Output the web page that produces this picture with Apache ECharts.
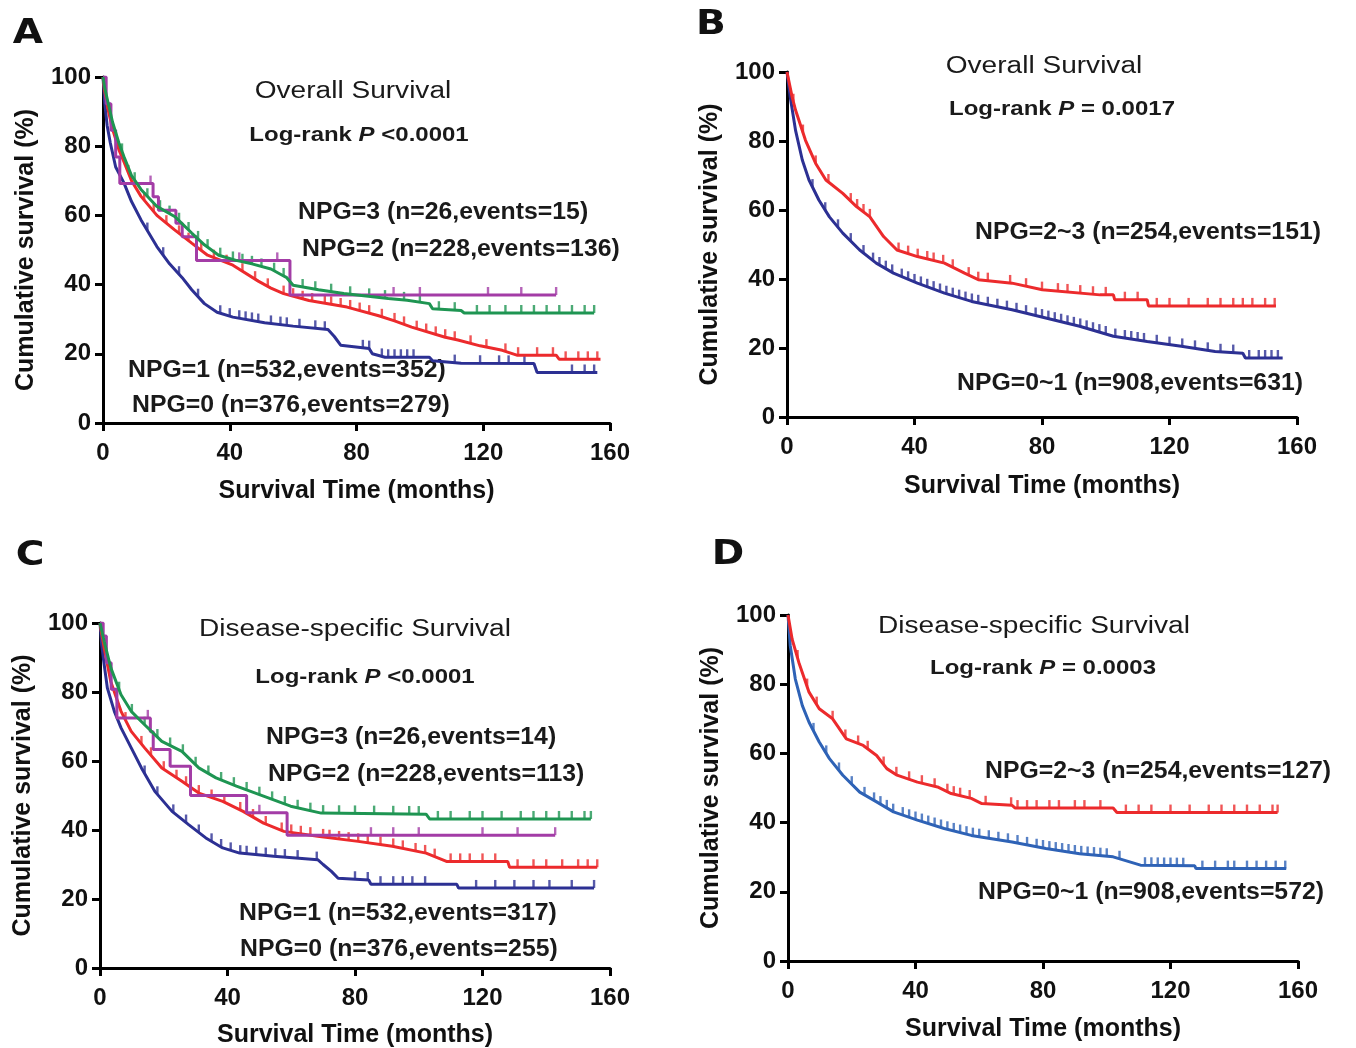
<!DOCTYPE html>
<html>
<head>
<meta charset="utf-8">
<script src="https://cdn.jsdelivr.net/npm/echarts@6/dist/echarts.min.js"></script>
<style>
  html, body { margin: 0; padding: 0; background: #fff; }
  #chart { width: 1356px; height: 1048px; }
</style>
</head>
<body>
<div id="chart"></div>
<script>
// ---- A: overall survival, 4 groups  [month, survival %]
var osNpg0 = [[0,100],[0.5,93],[1.3,86],[2.3,81],[4,74],[6.6,69.4],[9,64],[12,58.7],[17,51],[21,46],[25,42],[28,38.5],[32,34.5],[36,32],[41,30.6],[51,29],[60,28],[71,27],[73,25],[75,22.5],[84,21.5],[85,20],[89,19],[103,19],[104,18],[113,17.3],[136,17.2],[137,14.6],[156,14.6]];
var osNpg1 = [[0,100],[0.5,96],[1.5,91],[3,85],[5,79],[6.6,75.5],[9,70],[12,65.5],[17,60],[22.6,55.8],[28,52],[33,48.5],[41,45.6],[49,41],[53,39],[57,37.4],[65,35.4],[77,33.5],[87,31],[92,29.5],[97.4,27.7],[108,24.8],[112,24],[119,22.3],[126,21],[130.6,19.6],[143,19.6],[144,18.4],[157,18.4]];
var osNpg2 = [[0,100],[0.5,97],[1.5,93],[3,87],[5,81],[6.6,77],[9,71.5],[12,67.5],[17,62.6],[22.6,59.7],[28,54.9],[32,51.5],[36.5,48.5],[42,47],[47,46],[53,44.5],[56,43],[58,42],[60,39.8],[68,38.5],[76,37.4],[90,36],[96,35.5],[103,34.5],[104,33],[113,32.5],[114,31.8],[155,31.8]];
var osNpg3 = [[0,100],[1,92.3],[2.5,84.6],[4,76.9],[5.3,69.2],[15.8,65.4],[17.5,61.5],[23,57.7],[25,53.8],[29.5,47],[59,37],[143,37]];
var osNpg0Cens = [14,19,24,30,37,40,43,45,47,49,53,56,58,62,67,70,82,84,88,90,92,94,96,98,111,119,125,128,133,148,152,155];
var osNpg1Cens = [8,13,16,20,24,27,31,35,39,44,48,52,57,60,63,66,70,72,75,78,81,84,88,92,95,99,102,105,108,111,116,121,127,131,137,142,146,150,153,156];
var osNpg2Cens = [6,10,14,18,21,24,27,30,33,37,41,44,47,50,54,57,63,67,72,78,84,89,95,100,106,111,118,122,127,132,136,140,144,148,152,155];
var osNpg3Cens = [15,43,55,91.7,100,121.5,132,143];

// ---- B: overall survival, 2 groups
var osLow = [[0,100],[1,92.8],[2.7,83],[4.8,74.5],[6.9,68.7],[10,62.9],[13.3,58],[17.5,53.3],[22.8,48.4],[28,44.6],[33.4,41.7],[40.9,38.8],[49.4,35.9],[57.9,33.5],[70.6,31.1],[81.2,28.7],[91.8,26.3],[102.4,23.4],[113,21.9],[123.7,20.5],[134.3,19],[143,18.5],[143.8,17.1],[155.5,17.1]];
var osHigh = [[0,100],[1.6,92.8],[2.7,88.9],[5.8,80.2],[9,73.5],[12.2,68.7],[17.5,64.8],[21.8,61],[26,58],[30.3,52.3],[34.5,48.4],[40.9,46.5],[49.4,44.6],[55.7,41.7],[60,39.8],[70.6,38.8],[80.1,36.9],[98.2,35.4],[102.4,35.4],[102.8,34],[113,34],[113.4,32.2],[153.4,32.2]];
var osLowCens = [8,12,16,20,24,27,29,31,33,36,38,40,42,44,46,48,50,52,54,56,58,60,63,66,69,72,75,78,80,82,84,86,88,90,92,94,96,98,100,103,106,108,110,112,116,120,124,128,132,136,140,145,148,150,152,154];
var osHighCens = [2,5,9,13,20,22,24,26,35,38,41,44,46,49,52,57,60,63,70,75,80,85,88,92,96,100,106,110,116,120,126,132,136,140,143,146,150,153];

// ---- C: disease-specific survival, 4 groups
var dssNpg0 = [[0,100],[0.5,94],[1.3,88],[2.3,81.2],[4.5,74.4],[6.6,69.6],[9.8,63.8],[13,58],[17.2,51.2],[22.6,45.4],[27.9,41.5],[33.2,37.7],[38.5,34.8],[43.8,33.3],[54.5,32.4],[68.3,31.4],[70,30],[72.6,28],[74.7,26],[84.3,25.5],[85,24.3],[111.9,24.3],[112.5,23.2],[155,23.2]];
var dssNpg1 = [[0,100],[0.5,97],[1.3,92.8],[3.4,83],[6.6,74.4],[9.8,68.6],[14,63.8],[19.4,58],[25.7,54.1],[31,50.7],[38.5,48.3],[44.9,45.4],[51.3,42],[57.7,39.6],[68.3,38.2],[81,36.7],[91.7,35.3],[102.3,33.3],[108.7,30.9],[127.9,30.9],[128.5,29.2],[156,29.2]];
var dssNpg2 = [[0,100],[0.5,98],[1.3,94.7],[3.4,87],[6.6,79.2],[9.8,74.4],[14,70.5],[19.4,65.7],[25.7,62.8],[31,58],[36.4,55.1],[42.8,52.7],[51.3,49.8],[59.8,46.9],[69.4,44.9],[102.3,44.6],[103.4,43.2],[154,43.2]];
var dssNpg3 = [[0,100],[1,96.2],[2,88.5],[3.5,80.8],[5.3,72.5],[15.8,68.5],[16.7,63.3],[22,58.5],[28.4,50],[46,45],[58.7,38.5],[142.8,38.5]];
var dssNpg0Cens = [14,18,23,27,31,35,38,41,44,46,49,52,55,58,62,68,80,84,88,92,95,98,102,118,124,130,136,141,148,155];
var dssNpg1Cens = [8,13,16,20,24,27,31,35,39,44,48,52,57,60,63,66,70,72,75,78,81,84,88,92,95,99,102,105,110,113,116,120,124,131,136,140,145,150,153,156];
var dssNpg2Cens = [6,10,14,18,22,26,30,34,38,42,46,50,54,58,62,66,70,75,80,86,92,97,100,106,110,116,120,126,132,136,140,144,148,152,154];
var dssNpg3Cens = [15,50,85,92,100,120,131,142.8];

// ---- D: disease-specific survival, 2 groups
var dssLow = [[0,100],[0.7,91.2],[2.3,81.5],[4.5,73.8],[6.6,69],[9.8,63.3],[13,58.5],[17.2,53.7],[22.5,48.8],[27.8,46],[33.1,43.1],[40.6,40.7],[49,38.3],[57.5,36.3],[70.3,34.4],[80.9,32.5],[91.5,31],[102,30.1],[110.6,27.7],[127.6,27.5],[128,26.7],[156.3,26.7]];
var dssHigh = [[0,100],[1.3,93],[3.4,86.3],[6.6,77.7],[9.8,72.9],[14,70],[18.3,64.2],[23.6,62.3],[27.8,59.4],[31,55.6],[34.2,53.7],[40.6,51.7],[46.9,50.3],[51.2,48.4],[57.5,47],[60.8,45.5],[70.3,45],[71.3,44.2],[102,44.2],[103.2,42.9],[153.6,42.9]];
var dssLowCens = [8,12,16,20,24,27,29,31,33,36,38,40,42,44,46,48,50,52,54,56,58,60,63,66,69,72,75,78,80,82,84,86,88,90,92,94,96,98,100,104,112,114,116,118,120,122,124,130,134,138,140,144,147,150,153,156];
var dssHighCens = [3,6,9,14,18,22,25,30,34,38,42,46,50,52,54,57,62,70,72,75,78,82,85,90,93,98,106,110,114,120,126,132,136,140,144,148,152,153.6];

var panelLetters = ['A', 'B', 'C', 'D'];
var panelTitles = ['Overall Survival', 'Overall Survival', 'Disease-specific Survival', 'Disease-specific Survival'];
var logRankP = ['<0.0001', '= 0.0017', '<0.0001', '= 0.0003'];
var groupLabels = [
  ['NPG=3 (n=26,events=15)', 'NPG=2 (n=228,events=136)', 'NPG=1 (n=532,events=352)', 'NPG=0 (n=376,events=279)'],
  ['NPG=2~3 (n=254,events=151)', 'NPG=0~1 (n=908,events=631)'],
  ['NPG=3 (n=26,events=14)', 'NPG=2 (n=228,events=113)', 'NPG=1 (n=532,events=317)', 'NPG=0 (n=376,events=255)'],
  ['NPG=2~3 (n=254,events=127)', 'NPG=0~1 (n=908,events=572)']
];

var NAVY = '#2c3093', RED = '#ec2a2c', GREEN = '#1e9552', MAGENTA = '#a33ca6', BLUE = '#2e62b6';
var FONT = '"Liberation Sans", Arial, sans-serif';

var panels = [
  { grid: {left: 103, top: 77, width: 507, height: 346}, xGap: 56, yGap: 64,
    letter: [28, 34], title: [353, 92], p: [359, 135],
    labels: [[298, 212], [302, 249], [128, 370], [132, 405]],
    curves: [
      {data: osNpg0, cens: osNpg0Cens, color: NAVY},
      {data: osNpg1, cens: osNpg1Cens, color: RED},
      {data: osNpg3, cens: osNpg3Cens, color: MAGENTA, step: true},
      {data: osNpg2, cens: osNpg2Cens, color: GREEN}
    ]},
  { grid: {left: 787, top: 72, width: 510, height: 345}, xGap: 57, yGap: 64,
    letter: [711, 25], title: [1044, 67], p: [1062, 109],
    labels: [[975, 232], [957, 383]],
    curves: [
      {data: osLow, cens: osLowCens, color: NAVY},
      {data: osHigh, cens: osHighCens, color: RED}
    ]},
  { grid: {left: 100, top: 623, width: 510, height: 345}, xGap: 55, yGap: 64,
    letter: [30, 556], title: [355, 630], p: [365, 677],
    labels: [[266, 737], [268, 774], [239, 913], [240, 949]],
    curves: [
      {data: dssNpg0, cens: dssNpg0Cens, color: NAVY},
      {data: dssNpg1, cens: dssNpg1Cens, color: RED},
      {data: dssNpg3, cens: dssNpg3Cens, color: MAGENTA, step: true},
      {data: dssNpg2, cens: dssNpg2Cens, color: GREEN}
    ]},
  { grid: {left: 788, top: 615, width: 510, height: 346}, xGap: 56, yGap: 64,
    letter: [728, 555], title: [1034, 627], p: [1043, 668],
    labels: [[985, 771], [978, 892]],
    curves: [
      {data: dssLow, cens: dssLowCens, color: BLUE},
      {data: dssHigh, cens: dssHighCens, color: RED}
    ]}
];

// survival value on the drawn curve at month t (for censor ticks)
function survAt(curve, t, step) {
  for (var i = 0; i < curve.length - 1; i++) {
    var a = curve[i], b = curve[i + 1];
    if (t >= a[0] && t <= b[0] && b[0] > a[0]) {
      if (step) return t < b[0] ? a[1] : b[1];
      return a[1] + (b[1] - a[1]) * (t - a[0]) / (b[0] - a[0]);
    }
  }
  return curve[curve.length - 1][1];
}

var grids = [], xAxes = [], yAxes = [], series = [], graphics = [];
var axisLine = {show: true, onZero: false, lineStyle: {color: '#000', width: 3}};
var axisTick = {show: true, inside: false, length: 8, lineStyle: {color: '#000', width: 3}};
var labelStyle = {color: '#111', fontSize: 24, fontWeight: 'bold', fontFamily: FONT};
var nameStyle = {color: '#111', fontSize: 25, fontWeight: 'bold', fontFamily: FONT};

panels.forEach(function (pn, k) {
  var g = pn.grid;
  grids.push({left: g.left, top: g.top, width: g.width, height: g.height, outerBoundsMode: 'none', containLabel: false});
  xAxes.push({
    gridIndex: k, type: 'value', min: 0, max: 160, interval: 40,
    name: 'Survival Time (months)', nameLocation: 'middle', nameGap: pn.xGap, nameTextStyle: nameStyle,
    axisLine: axisLine, axisTick: axisTick, splitLine: {show: false},
    axisLabel: Object.assign({margin: 18}, labelStyle)
  });
  yAxes.push({
    gridIndex: k, type: 'value', min: 0, max: 100, interval: 20,
    name: 'Cumulative survival (%)', nameLocation: 'middle', nameGap: pn.yGap, nameTextStyle: nameStyle,
    axisLine: axisLine, axisTick: axisTick, splitLine: {show: false},
    axisLabel: Object.assign({margin: 12}, labelStyle)
  });

  pn.curves.forEach(function (c) {
    series.push({
      type: 'line', xAxisIndex: k, yAxisIndex: k, data: c.data,
      step: c.step ? 'end' : false, showSymbol: false, silent: true,
      lineStyle: {color: c.color, width: 3}
    });
    series.push({
      type: 'scatter', xAxisIndex: k, yAxisIndex: k, silent: true,
      data: c.cens.map(function (t) { return [t, survAt(c.data, t, c.step)]; }),
      symbol: 'rect', symbolSize: [2.4, 8], symbolOffset: [0, -4],
      itemStyle: {color: c.color}
    });
  });

  graphics.push({
    type: 'text', x: pn.letter[0], y: pn.letter[1], scaleX: 1.15,
    style: {text: panelLetters[k], align: 'center', verticalAlign: 'middle', fill: '#111',
      font: 'bold 34px "DejaVu Sans", sans-serif'}
  });
  graphics.push({
    type: 'text', x: pn.title[0], y: pn.title[1], scaleX: 1.22,
    style: {text: panelTitles[k], align: 'center', verticalAlign: 'middle', fill: '#1a1a1a',
      font: '23px ' + FONT}
  });
  graphics.push({
    type: 'text', x: pn.p[0], y: pn.p[1], scaleX: 1.17,
    style: {
      text: '{b|Log-rank }{i|P}{b| ' + logRankP[k] + '}', align: 'center', verticalAlign: 'middle',
      rich: {
        b: {fontSize: 20.5, fontWeight: 'bold', fontFamily: FONT, fill: '#1a1a1a'},
        i: {fontSize: 20.5, fontWeight: 'bold', fontStyle: 'italic', fontFamily: FONT, fill: '#1a1a1a'}
      }
    }
  });
  pn.labels.forEach(function (pos, j) {
    graphics.push({
      type: 'text', x: pos[0], y: pos[1],
      style: {text: groupLabels[k][j], align: 'left', verticalAlign: 'middle', fill: '#1a1a1a',
        font: 'bold 24.8px ' + FONT}
    });
  });
});

var chart = echarts.init(document.getElementById('chart'));
chart.setOption({
  backgroundColor: '#fff',
  animation: false,
  grid: grids,
  xAxis: xAxes,
  yAxis: yAxes,
  series: series,
  graphic: graphics
});
</script>
</body>
</html>
